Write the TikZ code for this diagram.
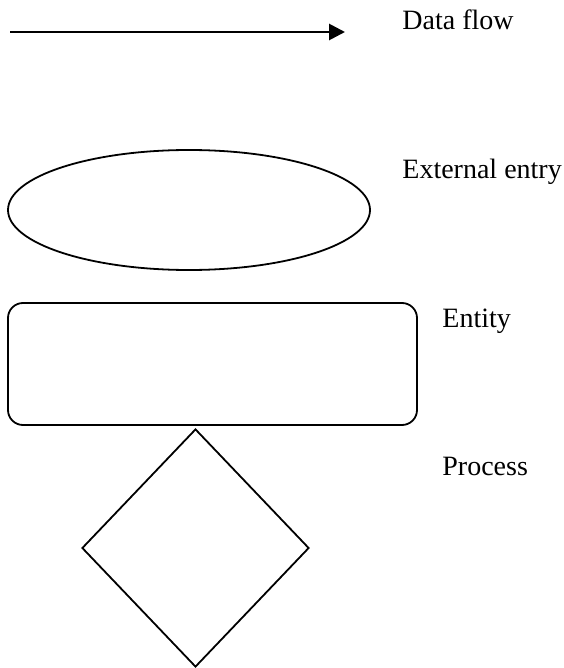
\documentclass[tikz,border=0pt]{standalone}
\usepackage{fontspec}
\setmainfont{Liberation Serif}
\usepackage{tikz}
\usetikzlibrary{arrows.meta,shapes.geometric}

\begin{document}
\begin{tikzpicture}[
  x=0.5pt, y=-0.5pt,
  shape line/.style={draw, line width=0.9pt, inner sep=0pt},
  extbox/.style={shape line, ellipse, minimum width=181pt, minimum height=60pt},
  entitybox/.style={shape line, rectangle, rounded corners=7.5pt, minimum width=204.5pt, minimum height=61pt},
  procbox/.style={shape line, diamond, minimum width=113.5pt, minimum height=119pt},
  legend/.style={anchor=base west, inner sep=0pt, font=\fontsize{14}{16}\selectfont},
  flow/.style={-{Triangle[length=8pt, width=8pt]}, line width=1.4pt}
]
\useasboundingbox (0,0) rectangle (563,668);

% flow arrow
\coordinate (flow start) at (10,32);
\coordinate (flow end) at (345,32);
\draw[flow] (flow start) -- (flow end);
\node[legend] (flow label) at (402,30) {Data flow};

% shapes
\node[extbox] (ext) at (189,210) {};
\node[legend] (ext label) at (402,179) {External entry};

\node[entitybox] (entity) at (212.5,364) {};
\node[legend] (entity label) at (442,327) {Entity};

\node[procbox] (proc) at (195.5,548) {};
\node[legend] (proc label) at (442,475) {Process};
\end{tikzpicture}
\end{document}
